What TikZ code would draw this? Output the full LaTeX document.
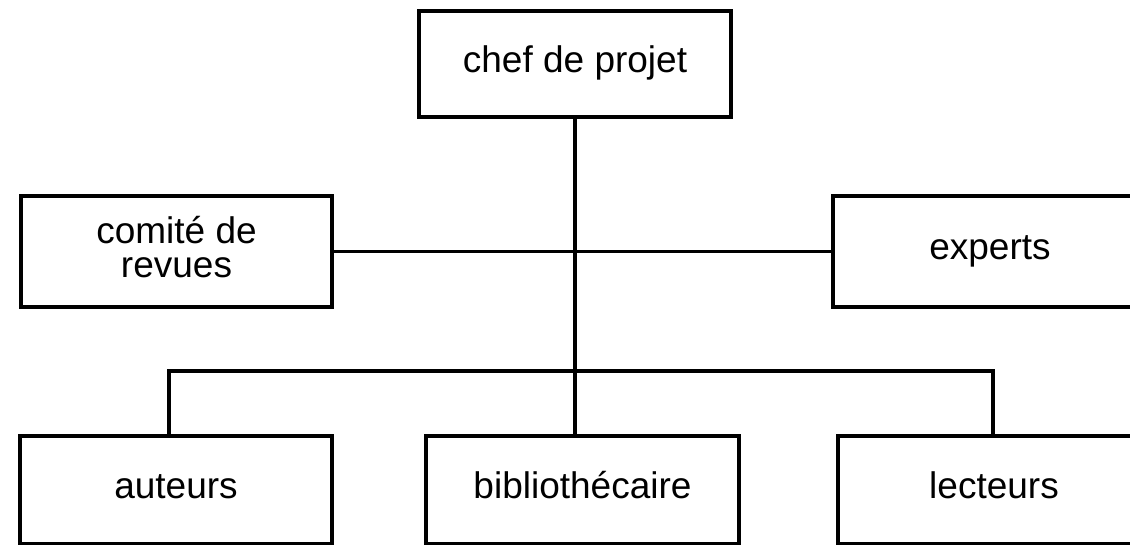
\documentclass[tikz,border=0pt]{standalone}
\usepackage{fontspec}
\setmainfont{Liberation Sans}
\begin{document}
\begin{tikzpicture}[x=1pt,y=-1pt,
  box/.style={draw=black, line width=4pt, fill=white, inner sep=0pt,
    minimum width=312pt, minimum height=108pt,
    font=\fontsize{37pt}{34pt}\selectfont, text height=26pt, text depth=10pt},
  wire/.style={draw=black, line width=3.5pt}]
\useasboundingbox (0,0) rectangle (1130,544);
\clip (0,0) rectangle (1130,544);
\fill[white] (0,0) rectangle (1130,544);
\node[box, minimum height=106pt] (chef) at (575,64) {chef de projet};
\node[box, minimum width=311pt, minimum height=111pt, align=center, text height=61pt, text depth=10pt] (comite) at (176.5,251.5) {comité de\\revues};
\node[box, minimum width=314pt, minimum height=111pt] (experts) at (990,251.5) {experts};
\node[box] (auteurs) at (176,490) {auteurs};
\node[box, minimum width=313pt] (biblio) at (582.5,490) {bibliothécaire};
\node[box] (lecteurs) at (994,490) {lecteurs};
\coordinate (busL) at ([xshift=-7pt]auteurs.north);
\coordinate (busR) at ([xshift=-1pt]lecteurs.north);
\draw[wire] (chef.south) -- (chef.south |- biblio.north);
\draw[wire] (comite.east) -- (experts.west);
\draw[wire] (busL) -- ++(0,-63) -| (busR);
\end{tikzpicture}
\end{document}
